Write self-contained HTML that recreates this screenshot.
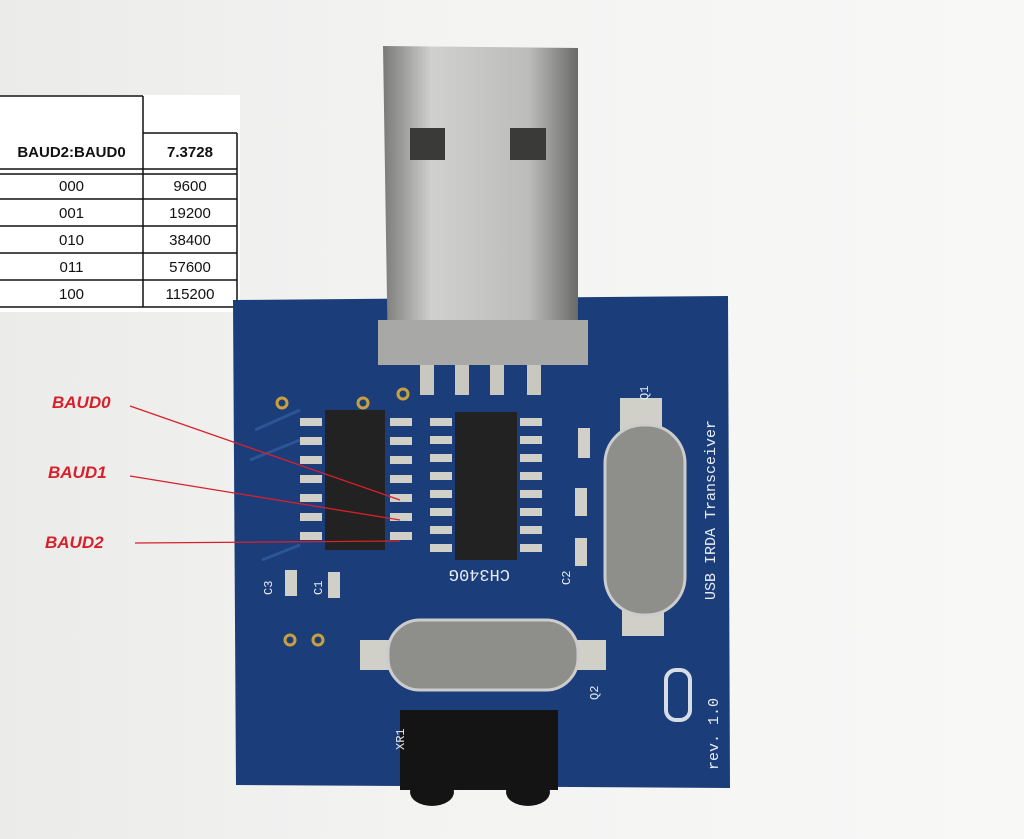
<!DOCTYPE html>
<html><head><meta charset="utf-8"><style>
body{margin:0;width:1024px;height:839px;overflow:hidden;background:linear-gradient(90deg,#ebebea,#f3f3f2 40%,#f8f8f7);font-family:"Liberation Sans",sans-serif;position:relative}
#tbl{position:absolute;left:0;top:95px;width:240px;height:217px;background:#fff}
.c{position:absolute;font-size:15px;text-align:center;color:#111}
.lab{position:absolute;color:#d8202a;font-weight:bold;font-style:italic;font-size:17px}
</style></head><body>
<div id="tbl">
<svg width="240" height="217" style="position:absolute;left:0;top:0">
<g stroke="#111" stroke-width="1.5" fill="none">
<line x1="0" y1="1" x2="143" y2="1"/>
<line x1="143" y1="1" x2="143" y2="212"/>
<line x1="143" y1="38" x2="237" y2="38"/>
<line x1="237" y1="38" x2="237" y2="212"/>
<line x1="0" y1="74" x2="237" y2="74"/>
<line x1="0" y1="79" x2="237" y2="79"/>
<line x1="0" y1="104" x2="237" y2="104"/>
<line x1="0" y1="131" x2="237" y2="131"/>
<line x1="0" y1="158" x2="237" y2="158"/>
<line x1="0" y1="185" x2="237" y2="185"/>
<line x1="0" y1="212" x2="237" y2="212"/>
</g></svg>
<div class="c" style="left:0;width:143px;top:49px;font-weight:bold">BAUD2:BAUD0</div>
<div class="c" style="left:143px;width:94px;top:49px;font-weight:bold">7.3728</div>
<div class="c" style="left:0;width:143px;top:83px">000</div><div class="c" style="left:143px;width:94px;top:83px">9600</div>
<div class="c" style="left:0;width:143px;top:110px">001</div><div class="c" style="left:143px;width:94px;top:110px">19200</div>
<div class="c" style="left:0;width:143px;top:137px">010</div><div class="c" style="left:143px;width:94px;top:137px">38400</div>
<div class="c" style="left:0;width:143px;top:164px">011</div><div class="c" style="left:143px;width:94px;top:164px">57600</div>
<div class="c" style="left:0;width:143px;top:191px">100</div><div class="c" style="left:143px;width:94px;top:191px">115200</div>
</div>
<svg width="1024" height="839" style="position:absolute;left:0;top:0">
<defs><linearGradient id="met" x1="0" x2="1"><stop offset="0" stop-color="#7a7a78"/><stop offset=".25" stop-color="#d0d0ce"/><stop offset=".75" stop-color="#bcbcba"/><stop offset="1" stop-color="#6a6a68"/></linearGradient></defs>
<polygon points="233,300 728,296 730,788 236,785" fill="#1b3d7a"/>
<path d="M255 430 L300 410 M250 460 L300 440 M262 560 L300 545" stroke="#2b5595" stroke-width="3" fill="none"/>
<polygon points="383,46 578,48 578,360 388,362" fill="url(#met)"/>
<rect x="378" y="320" width="210" height="45" fill="#a8a8a6"/>
<rect x="410" y="128" width="35" height="32" fill="#3a3a38"/><rect x="510" y="128" width="36" height="32" fill="#3a3a38"/>
<g fill="#c8c8c0"><rect x="420" y="365" width="14" height="30"/><rect x="455" y="365" width="14" height="30"/><rect x="490" y="365" width="14" height="30"/><rect x="527" y="365" width="14" height="30"/></g>
<rect x="325" y="410" width="60" height="140" fill="#222"/>
<rect x="455" y="412" width="62" height="148" fill="#222"/>
<g fill="#d0d0c8">
<rect x="300" y="418" width="22" height="8"/><rect x="300" y="437" width="22" height="8"/><rect x="300" y="456" width="22" height="8"/><rect x="300" y="475" width="22" height="8"/><rect x="300" y="494" width="22" height="8"/><rect x="300" y="513" width="22" height="8"/><rect x="300" y="532" width="22" height="8"/>
<rect x="390" y="418" width="22" height="8"/><rect x="390" y="437" width="22" height="8"/><rect x="390" y="456" width="22" height="8"/><rect x="390" y="475" width="22" height="8"/><rect x="390" y="494" width="22" height="8"/><rect x="390" y="513" width="22" height="8"/><rect x="390" y="532" width="22" height="8"/>
<rect x="430" y="418" width="22" height="8"/><rect x="430" y="436" width="22" height="8"/><rect x="430" y="454" width="22" height="8"/><rect x="430" y="472" width="22" height="8"/><rect x="430" y="490" width="22" height="8"/><rect x="430" y="508" width="22" height="8"/><rect x="430" y="526" width="22" height="8"/><rect x="430" y="544" width="22" height="8"/>
<rect x="520" y="418" width="22" height="8"/><rect x="520" y="436" width="22" height="8"/><rect x="520" y="454" width="22" height="8"/><rect x="520" y="472" width="22" height="8"/><rect x="520" y="490" width="22" height="8"/><rect x="520" y="508" width="22" height="8"/><rect x="520" y="526" width="22" height="8"/><rect x="520" y="544" width="22" height="8"/>
<rect x="578" y="428" width="12" height="30"/><rect x="575" y="488" width="12" height="28"/><rect x="575" y="538" width="12" height="28"/>
<rect x="285" y="570" width="12" height="26"/><rect x="328" y="572" width="12" height="26"/>
<rect x="620" y="398" width="42" height="36"/><rect x="622" y="598" width="42" height="38"/>
<rect x="360" y="640" width="36" height="30"/><rect x="570" y="640" width="36" height="30"/>
</g>
<rect x="605" y="425" width="80" height="190" rx="38" fill="#8e8e8a" stroke="#ccc" stroke-width="3"/>
<rect x="388" y="620" width="190" height="70" rx="32" fill="#8e8e8a" stroke="#ccc" stroke-width="3"/>
<rect x="400" y="710" width="158" height="80" fill="#141414"/>
<ellipse cx="432" cy="792" rx="22" ry="14" fill="#141414"/><ellipse cx="528" cy="792" rx="22" ry="14" fill="#141414"/>
<rect x="666" y="670" width="24" height="50" rx="10" fill="none" stroke="#d8dde5" stroke-width="4"/>
<g fill="none" stroke="#c8a040" stroke-width="3"><circle cx="282" cy="403" r="5"/><circle cx="363" cy="403" r="5"/><circle cx="403" cy="394" r="5"/><circle cx="290" cy="640" r="5"/><circle cx="318" cy="640" r="5"/></g>
<g stroke="#d8202a" stroke-width="1.3"><line x1="130" y1="406" x2="400" y2="500"/><line x1="130" y1="476" x2="400" y2="520"/><line x1="135" y1="543" x2="400" y2="541"/></g>
<g fill="#e8ecf2" font-family="Liberation Mono" font-size="15">
<text transform="translate(715,600) rotate(-90)">USB IRDA Transceiver</text>
<text transform="translate(718,770) rotate(-90)">rev. 1.0</text>
<text transform="translate(648,400) rotate(-90)" font-size="12">Q1</text>
<text transform="translate(598,700) rotate(-90)" font-size="12">Q2</text>
<text transform="translate(404,750) rotate(-90)" font-size="12">XR1</text>
<text transform="translate(272,595) rotate(-90)" font-size="12">C3</text>
<text transform="translate(322,595) rotate(-90)" font-size="12">C1</text>
<text transform="translate(570,585) rotate(-90)" font-size="12">C2</text>
<text transform="translate(510,570) rotate(180)" font-size="17">CH340G</text>
</g>
</svg>
<div class="lab" style="left:52px;top:393px">BAUD0</div>
<div class="lab" style="left:48px;top:463px">BAUD1</div>
<div class="lab" style="left:45px;top:533px">BAUD2</div>
</body></html>
